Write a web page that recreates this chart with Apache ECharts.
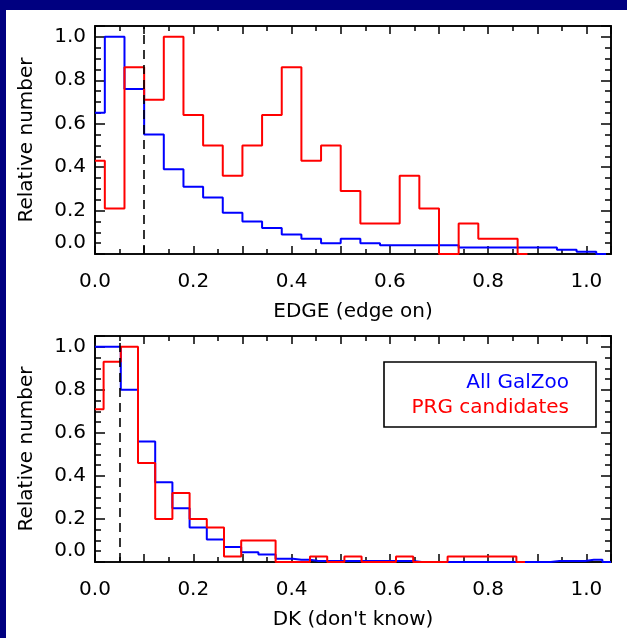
<!DOCTYPE html>
<html>
<head>
<meta charset="utf-8">
<script src="https://cdn.jsdelivr.net/npm/echarts@6/dist/echarts.min.js"></script>
<style>
  html, body { margin: 0; padding: 0; background: #fff; }
  #chart { width: 627px; height: 638px; }
</style>
</head>
<body>
<div id="chart"></div>
<script>
// Bin centres and normalised counts, EDGE (edge on) vote fraction
const edgeBins = [0.00, 0.04, 0.08, 0.12, 0.16, 0.20, 0.24, 0.28, 0.32, 0.36, 0.40, 0.44, 0.48, 0.52,
                  0.56, 0.60, 0.64, 0.68, 0.72, 0.76, 0.80, 0.84, 0.88, 0.92, 0.96, 1.00, 1.04];
const edgeAll = [0.65, 1.00, 0.76, 0.55, 0.39, 0.31, 0.26, 0.19, 0.15, 0.12, 0.09, 0.07, 0.05, 0.07,
                 0.05, 0.04, 0.04, 0.04, 0.04, 0.03, 0.03, 0.03, 0.03, 0.03, 0.02, 0.01, 0.00];
const edgePRG = [0.43, 0.21, 0.86, 0.71, 1.00, 0.64, 0.50, 0.36, 0.50, 0.64, 0.86, 0.43, 0.50, 0.29,
                 0.14, 0.14, 0.36, 0.21, 0.00, 0.14, 0.07, 0.07, 0.00];

// Bin centres and normalised counts, DK (don't know) vote fraction
const dkBins = [0.000, 0.035, 0.070, 0.105, 0.140, 0.175, 0.210, 0.245, 0.280, 0.315, 0.350,
                0.385, 0.420, 0.455, 0.490, 0.525, 0.560, 0.595, 0.630, 0.665, 0.700,
                0.735, 0.770, 0.805, 0.840, 0.875, 0.910, 0.945, 0.980, 1.015, 1.050];
const dkAll = [1.00, 1.00, 0.80, 0.56, 0.37, 0.25, 0.16, 0.105, 0.07, 0.045, 0.035,
               0.015, 0.01, 0.005, 0.005, 0.005, 0.005, 0.005, 0.005, 0.00, 0.00,
               0.00, 0.00, 0.00, 0.00, 0.00, 0.00, 0.005, 0.005, 0.01, 0.00];
const dkPRG = [0.71, 0.93, 1.00, 0.46, 0.20, 0.32, 0.20, 0.16, 0.025, 0.10, 0.10,
               0.00, 0.00, 0.025, 0.00, 0.025, 0.00, 0.00, 0.025, 0.00, 0.00,
               0.025, 0.025, 0.025, 0.025, 0.00];

// Selection cuts shown as dashed lines
const edgeCut = 0.1;
const dkCut = 0.05;

const seriesNames = ['All GalZoo', 'PRG candidates'];
const xTickLabels = ['0.0', '0.2', '0.4', '0.6', '0.8', '1.0'];
const yTickLabels = ['0.0', '0.2', '0.4', '0.6', '0.8', '1.0'];
const xTitles = ['EDGE (edge on)', "DK (don't know)"];
const yTitle = 'Relative number';

const FONT = 'DejaVu Sans';
const INK = '#000';
const BLUE = '#0000ff';
const RED = '#ff0000';
const X_MAX = 1.05;
const Y_MAX = 1.05;

function pairs(xs, ys) { return ys.map((y, i) => [xs[i], y]); }
function labelFor(list, v) {
  const hit = list.find(t => Math.abs(parseFloat(t) - v) < 1e-6);
  return hit || '';
}

const lineStyle = { color: INK, width: 1.6 };
const tickStyle = { color: INK, width: 1.5 };
const textBase = { color: INK, fontFamily: FONT, fontSize: 20 };

// Each frame side gets two overlaid axes: long ticks and short ticks
function xAxesFor(g, title) {
  const base = {
    type: 'value', gridIndex: g, min: 0, max: X_MAX,
    splitLine: { show: false },
    axisLine: { show: true, onZero: false, lineStyle }
  };
  return [
    Object.assign({}, base, {
      position: 'bottom', interval: 0.1,
      axisTick: { show: true, inside: true, length: 8, lineStyle: tickStyle },
      axisLabel: Object.assign({ show: true, margin: 18, formatter: v => labelFor(xTickLabels, v) }, textBase),
      name: title, nameLocation: 'middle', nameGap: 48, nameMoveOverlap: false,
      nameTextStyle: Object.assign({}, textBase)
    }),
    Object.assign({}, base, {
      position: 'bottom', interval: 0.05,
      axisTick: { show: true, inside: true, length: 5, lineStyle: tickStyle },
      axisLabel: { show: false }
    }),
    Object.assign({}, base, {
      position: 'top', interval: 0.1,
      axisTick: { show: true, inside: true, length: 8, lineStyle: tickStyle },
      axisLabel: { show: false }
    }),
    Object.assign({}, base, {
      position: 'top', interval: 0.05,
      axisTick: { show: true, inside: true, length: 5, lineStyle: tickStyle },
      axisLabel: { show: false }
    })
  ];
}

function yAxesFor(g) {
  const base = {
    type: 'value', gridIndex: g, min: 0, max: Y_MAX,
    splitLine: { show: false },
    axisLine: { show: true, onZero: false, lineStyle }
  };
  return [
    Object.assign({}, base, {
      position: 'left', interval: 0.2,
      axisTick: { show: true, inside: true, length: 10, lineStyle: tickStyle },
      axisLabel: Object.assign({
        show: true, margin: 9,
        // the zero label sits a little above its tick
        formatter: v => (Math.abs(v) < 1e-9 ? '{z|' + yTickLabels[0] + '}' : labelFor(yTickLabels, v)),
        rich: { z: Object.assign({ padding: [0, 0, 22, 0] }, textBase) }
      }, textBase),
      name: yTitle, nameLocation: 'middle', nameRotate: 90, nameGap: 58, nameMoveOverlap: false,
      nameTextStyle: Object.assign({}, textBase)
    }),
    Object.assign({}, base, {
      position: 'left', interval: 0.05,
      axisTick: { show: true, inside: true, length: 6, lineStyle: tickStyle },
      axisLabel: { show: false }
    }),
    Object.assign({}, base, {
      position: 'right', interval: 0.2,
      axisTick: { show: true, inside: true, length: 10, lineStyle: tickStyle },
      axisLabel: { show: false }
    }),
    Object.assign({}, base, {
      position: 'right', interval: 0.05,
      axisTick: { show: true, inside: true, length: 6, lineStyle: tickStyle },
      axisLabel: { show: false }
    })
  ];
}

function histSeries(name, xs, ys, color, axisIndex, extra) {
  return Object.assign({
    type: 'line', name, step: 'middle',
    data: pairs(xs, ys),
    xAxisIndex: axisIndex, yAxisIndex: axisIndex,
    symbol: 'none', showSymbol: false,
    lineStyle: { color, width: 2 },
    itemStyle: { color },
    clip: false, silent: true
  }, extra || {});
}

function cutLine(x) {
  return {
    silent: true,
    symbol: ['none', 'none'],
    label: { show: false },
    lineStyle: { color: INK, type: [9, 6], width: 1.6 },
    data: [{ xAxis: x }]
  };
}

const chart = echarts.init(document.getElementById('chart'), null, { renderer: 'canvas' });

chart.setOption({
  animation: false,
  backgroundColor: '#fff',
  grid: [
    { left: 95, right: 16, top: 26, height: 228, containLabel: false, outerBoundsMode: 'none' },
    { left: 95, right: 16, top: 336, height: 226, containLabel: false, outerBoundsMode: 'none' }
  ],
  xAxis: xAxesFor(0, xTitles[0]).concat(xAxesFor(1, xTitles[1])),
  yAxis: yAxesFor(0).concat(yAxesFor(1)),
  legend: {
    orient: 'vertical', left: 384, top: 362,
    padding: [11, 27, 9, 4], itemGap: 5,
    itemWidth: 0, itemHeight: 0, icon: 'rect',
    itemStyle: { opacity: 0 }, lineStyle: { opacity: 0 },
    borderColor: INK, borderWidth: 1.6, borderRadius: 0, backgroundColor: '#fff',
    selectedMode: false,
    data: seriesNames,
    formatter: n => (n === seriesNames[0] ? '{b|' + n + '}' : '{r|' + n + '}'),
    textStyle: {
      fontFamily: FONT, fontSize: 20,
      rich: {
        b: { width: 176, align: 'right', lineHeight: 20, fontFamily: FONT, fontSize: 20, color: BLUE },
        r: { width: 176, align: 'right', lineHeight: 20, fontFamily: FONT, fontSize: 20, color: RED }
      }
    }
  },
  graphic: [
    { type: 'rect', shape: { x: 0, y: 0, width: 627, height: 10 }, style: { fill: '#000080' }, z: 100, silent: true },
    { type: 'rect', shape: { x: 0, y: 0, width: 6, height: 638 }, style: { fill: '#000080' }, z: 100, silent: true }
  ],
  series: [
    histSeries(seriesNames[0], edgeBins, edgeAll, BLUE, 0),
    histSeries(seriesNames[1], edgeBins, edgePRG, RED, 0, { markLine: cutLine(edgeCut) }),
    histSeries(seriesNames[0], dkBins, dkAll, BLUE, 4),
    histSeries(seriesNames[1], dkBins, dkPRG, RED, 4, { markLine: cutLine(dkCut) })
  ]
});
</script>
</body>
</html>
